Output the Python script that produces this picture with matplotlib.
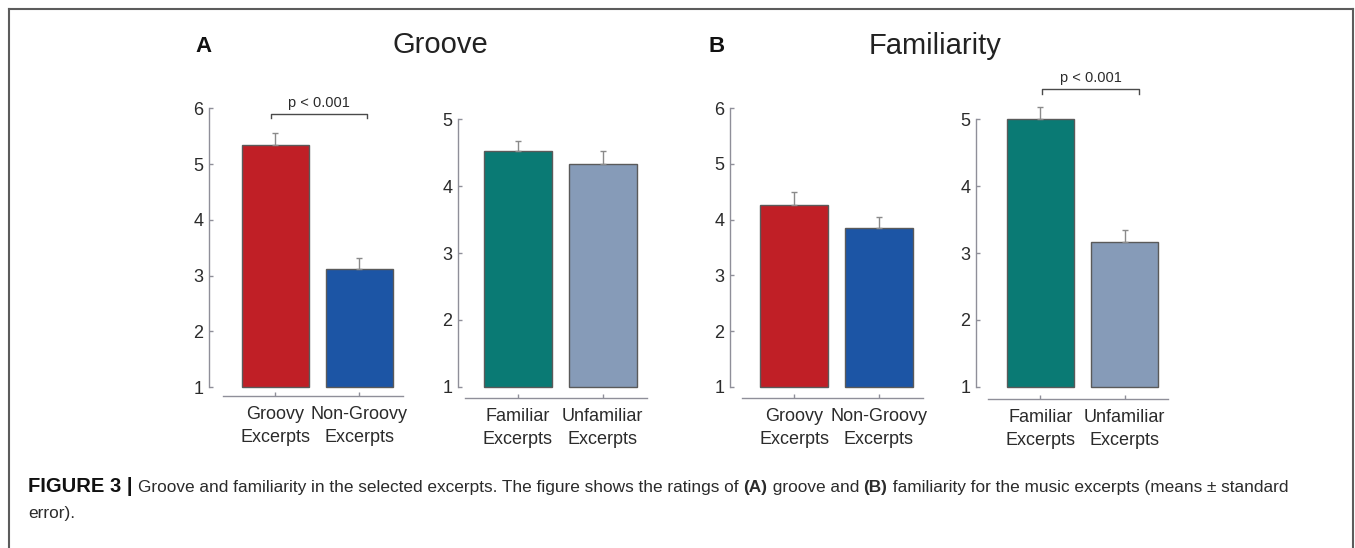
import numpy as np
import matplotlib.pyplot as plt
from matplotlib.lines import Line2D

plt.rcParams['font.family'] = ['Liberation Sans', 'DejaVu Sans']

W, H = 1355, 548

groove_labels = ['Groovy\nExcerpts', 'Non-Groovy\nExcerpts']
familiar_labels = ['Familiar\nExcerpts', 'Unfamiliar\nExcerpts']

# groove ratings
groove_by_groove = [5.34, 3.11]
groove_by_groove_se = [0.21, 0.21]
groove_by_familiar = [4.52, 4.33]
groove_by_familiar_se = [0.15, 0.20]

# familiarity ratings
familiar_by_groove = [4.27, 3.85]
familiar_by_groove_se = [0.23, 0.20]
familiar_by_familiar = [5.00, 3.17]
familiar_by_familiar_se = [0.19, 0.17]

groove_colors = ['#c01f26', '#1c55a5']
familiar_colors = ['#0a7a74', '#869bb8']

AXIS_GREY = '#8f8f99'
TEXT = '#2b2b2b'


def px_rect(x0, x1, ytop, ybot):
    return [x0 / W, 1 - ybot / H, (x1 - x0) / W, (ybot - ytop) / H]


def bar_panel(rect, means, errs, labels, colors, ymax, left_off, bottom_off):
    ax = fig.add_axes(rect)
    x = np.arange(len(means))
    heights = np.array(means) - 1
    ax.bar(x, heights, bottom=1, width=0.8, color=colors,
           edgecolor='#5a5a5a', linewidth=1.0, clip_on=False, zorder=2)
    ax.errorbar(x, means, yerr=[np.zeros(len(errs)), errs], fmt='none',
                ecolor='#8a8a8a', elinewidth=1.0, capsize=2.5, capthick=1.0,
                zorder=3, clip_on=False)
    ax.set_xlim(-0.62, 1.52)
    ax.set_ylim(1, ymax)
    ax.set_yticks(range(1, ymax + 1))
    ax.set_xticks(x)
    ax.set_xticklabels([])
    ax.tick_params(direction='in', length=3, width=1.0, color=AXIS_GREY,
                   labelsize=13, labelcolor=TEXT)
    ax.tick_params(axis='y', pad=4)
    # two-line category names under the bars
    for xi, lab in zip(x, labels):
        ax.annotate(lab, xy=(xi, 0), xycoords=('data', 'axes fraction'),
                    xytext=(0, -bottom_off * 0.72 - 7), textcoords='offset points',
                    ha='center', va='top', fontsize=13, color=TEXT,
                    linespacing=1.45, annotation_clip=False)
    for s in ['top', 'right']:
        ax.spines[s].set_visible(False)
    ax.spines['left'].set_position(('outward', left_off * 0.72))
    ax.spines['bottom'].set_position(('outward', bottom_off * 0.72))
    for s in ['left', 'bottom']:
        ax.spines[s].set_color(AXIS_GREY)
        ax.spines[s].set_linewidth(1.0)
    ax.patch.set_visible(False)
    return ax


def bracket(ax, x0, x1, y, drop):
    ax.plot([x0, x0, x1, x1], [y - drop, y, y, y - drop], color='#4a4a4a',
            lw=1.0, clip_on=False)
    ax.annotate('p < 0.001', xy=((x0 + x1) / 2, y), xytext=(0, 3),
                textcoords='offset points', ha='center', va='bottom',
                fontsize=10.5, color=TEXT, annotation_clip=False)


fig = plt.figure(figsize=(W / 100, H / 100), dpi=100)

ax1 = bar_panel(px_rect(223, 403, 108.3, 387), groove_by_groove,
                groove_by_groove_se, groove_labels, groove_colors, 6, 14, 9)
bracket(ax1, -0.05, 1.09, 5.89, 0.06)
bar_panel(px_rect(465, 646.7, 119.3, 386.7), groove_by_familiar,
          groove_by_familiar_se, familiar_labels, familiar_colors, 5, 7, 11.6)
bar_panel(px_rect(741.7, 922.7, 108.3, 386.7), familiar_by_groove,
          familiar_by_groove_se, groove_labels, groove_colors, 6, 11.7, 11.6)
ax4 = bar_panel(px_rect(988.3, 1168.3, 119.3, 386.7), familiar_by_familiar,
                familiar_by_familiar_se, familiar_labels, familiar_colors, 5,
                12.3, 12.6)
bracket(ax4, 0.02, 1.17, 5.45, 0.07)

# panel letters and titles
fig.text(203 / W, 1 - 46 / H, 'A', fontsize=16, fontweight='bold',
         ha='center', va='center', color='#111111')
fig.text(717 / W, 1 - 46 / H, 'B', fontsize=16, fontweight='bold',
         ha='center', va='center', color='#111111')
fig.text(440 / W, 1 - 45 / H, 'Groove', fontsize=21, ha='center',
         va='center', color='#222222')
fig.text(935 / W, 1 - 46 / H, 'Familiarity', fontsize=21, ha='center',
         va='center', color='#222222')

# frame around the figure
frame_kw = dict(color='#5c5c5c', lw=1.5, transform=fig.transFigure)
fig.add_artist(Line2D([9 / W, 1353 / W], [1 - 9 / H, 1 - 9 / H], **frame_kw))
fig.add_artist(Line2D([9 / W, 9 / W], [0, 1 - 9 / H], **frame_kw))
fig.add_artist(Line2D([1353 / W, 1353 / W], [0, 1 - 9 / H], **frame_kw))

# caption with mixed bold / regular runs
caption_runs = [
    ('FIGURE 3 | ', 'bold', '#111111', 14.5),
    ('Groove and familiarity in the selected excerpts. The figure shows the ratings of ', 'normal', TEXT, 12.4),
    ('(A)', 'bold', TEXT, 12.4),
    (' groove and ', 'normal', TEXT, 12.4),
    ('(B)', 'bold', TEXT, 12.4),
    (' familiarity for the music excerpts (means \u00b1 standard', 'normal', TEXT, 12.4),
]
renderer = fig.canvas.get_renderer()
xpos = 28
for txt, weight, col, size in caption_runs:
    t = fig.text(xpos / W, 1 - 492 / H, txt, fontsize=size,
                 fontweight=weight, color=col, ha='left', va='baseline')
    bb = t.get_window_extent(renderer=renderer)
    xpos += bb.width
fig.text(28 / W, 1 - 518 / H, 'error).', fontsize=12.4, color=TEXT,
         ha='left', va='baseline')

fig.savefig('out.png', dpi=100)
